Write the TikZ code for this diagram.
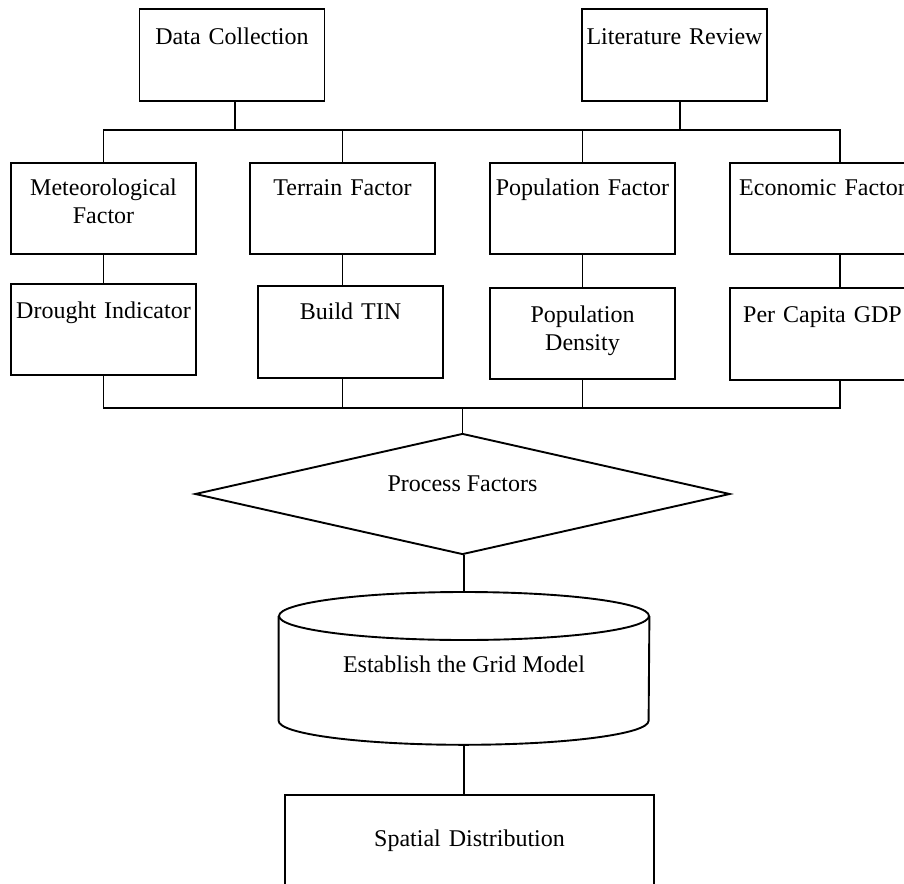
\documentclass[tikz,border=0pt]{standalone}
\usepackage{fontspec}
\setmainfont{Liberation Serif}
\usepackage{tikz}
\usetikzlibrary{positioning, shapes.geometric}

\begin{document}
\begin{tikzpicture}[x=0.5pt, y=-0.5pt, font=\fontsize{12}{14}\selectfont,
    box/.style={draw, line width=0.95pt, inner sep=0pt, text width=92.5pt,
      align=center, anchor=north},
    link/.style={line width=0.8pt}]
  \useasboundingbox (0,0) rectangle (904,883);
  \clip (0,0) rectangle (904,883);

  \node[box, text height=18pt, text depth=28pt] (dc) at (232,8) {Data Collection};
  \node[box, text height=18pt, text depth=28pt] (lr) at (674.5,8) {Literature Review};

  \node[box, text height=16.5pt, text depth=29pt] (met) at (103.5,162) {Meteorological\\Factor};
  \node[box, text height=16.5pt, text depth=29pt] (ter) at (342.5,162) {Terrain Factor};
  \node[box, text height=16.5pt, text depth=29pt] (pop) at (582.5,162) {Population Factor};
  \node[box, text height=16.5pt, text depth=29pt] (eco) at (822.5,162) {Economic Factor};

  \node[box, text height=17.5pt, text depth=28pt] (dro) at (103.5,283) {Drought Indicator};
  \node[box, text height=17pt, text depth=29pt] (tin) at (350.5,285) {Build TIN};
  \node[box, text height=17.5pt, text depth=28pt] (den) at (582.5,287) {Population\\Density};
  \node[box, text height=17.5pt, text depth=28.5pt] (gdp) at (822.5,287) {Per Capita GDP};

  \node[draw, diamond, line width=0.95pt, inner sep=0pt, aspect=4.4,
        minimum width=267.5pt, minimum height=60.5pt,
        text height=8pt, text depth=11pt] (proc) at (462.5,494) {Process Factors};
  \node[inner sep=0pt, minimum width=185pt, anchor=north,
        text height=40pt, text depth=36pt] (grid) at (464,592) {Establish the Grid Model};
  \node[box, text width=184.5pt, text height=26pt, text depth=27pt] (spd) at (469.5,794) {Spatial Distribution};

  % cylinder outline round the grid node
  \draw[line width=0.95pt] ([yshift=-12pt]grid.north) ellipse [x radius=92.5pt, y radius=12pt];
  \draw[line width=0.95pt] ([yshift=-12pt]grid.north west) -- ([yshift=12pt]grid.south west)
    arc [start angle=180, end angle=360, x radius=92.5pt, y radius=12pt]
    -- ([yshift=-12pt]grid.north east);

  \coordinate (topbus) at (0,130);
  \coordinate (lowbus) at (0,408);

  \draw[link] ([xshift=1.5pt]dc.south) -- ([xshift=1.5pt]dc.south |- topbus);
  \draw[link] ([xshift=2.75pt]lr.south) -- ([xshift=2.75pt]lr.south |- topbus);
  \draw[link] (met.north) |- ([xshift=8.75pt]eco.north |- topbus) -- ([xshift=8.75pt]eco.north);
  \draw[link] (ter.north) -- (ter.north |- topbus);
  \draw[link] (pop.north) -- (pop.north |- topbus);

  \draw[link] (met.south) -- (dro.north);
  \draw[link] (ter.south) -- (ter.south |- tin.north);
  \draw[link] (pop.south) -- (den.north);
  \draw[link] ([xshift=8.75pt]eco.south) -- ([xshift=8.75pt]gdp.north);

  \draw[link] (dro.south) |- ([xshift=8.75pt]gdp.south |- lowbus) -- ([xshift=8.75pt]gdp.south);
  \draw[link] (ter.south |- tin.south) -- (ter.south |- lowbus);
  \draw[link] (den.south) -- (den.south |- lowbus);
  \draw[link] (proc.north |- lowbus) -- (proc.north);

  \draw[link] (grid.north |- proc.south) -- (grid.north);
  \draw[link] (grid.south) -- (grid.south |- spd.north);
\end{tikzpicture}
\end{document}
